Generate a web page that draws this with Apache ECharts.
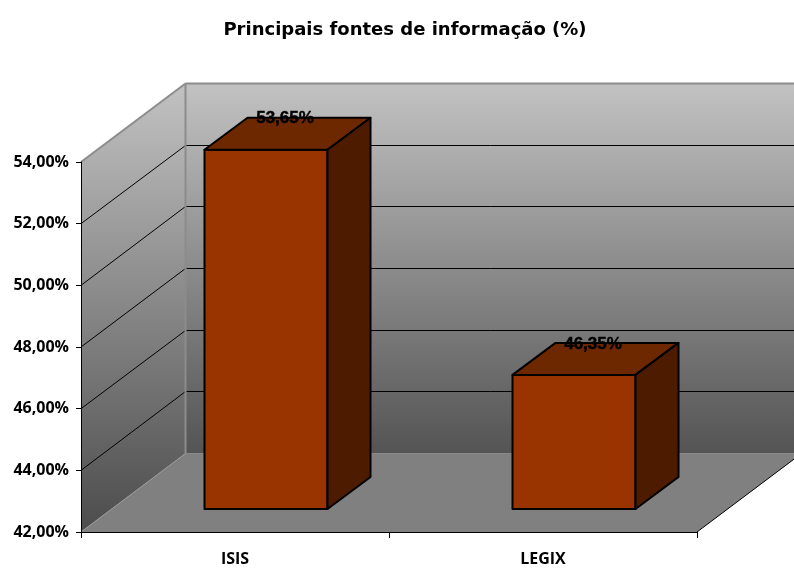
<!DOCTYPE html>
<html>
<head>
<meta charset="utf-8">
<script src="https://cdn.jsdelivr.net/npm/echarts@6/dist/echarts.min.js"></script>
<style>
html,body{margin:0;padding:0;background:#fff;}
#chart{width:794px;height:568px;}
</style>
</head>
<body>
<div id="chart"></div>
<script>
let categories = ['ISIS', 'LEGIX'];
let values = [53.65, 46.35];
let yTicks = [42, 44, 46, 48, 50, 52, 54];
let titleText = 'Principais fontes de informação (%)';

// 3D look: how far the back wall and the bar sit behind the axis plane, in px
let wallDepth = [104.5, -78.5];
let barOffset = [31, -23];
let barDepth = [43, -32];
let barWidth = 123;

function fmt(v){
    return v.toFixed(2).replace('.', ',') + '%';
}

function shift(p, d){
    return [p[0] + d[0], p[1] + d[1]];
}

function poly(points, style){
    return {type: 'polygon', shape: {points: points}, style: style};
}

function seg(a, b, color, w){
    return {type: 'line', shape: {x1: a[0], y1: a[1], x2: b[0], y2: b[1]},
        style: {stroke: color, lineWidth: w, fill: null}};
}

function renderWalls(params, api){
    // category coords snap to band centres, so step out half a band by hand
    let band = api.size([1, 0])[0];
    let min = yTicks[0];
    let max = yTicks[yTicks.length - 1];
    let x0 = api.coord([0, min])[0] - band / 2;
    let x1 = api.coord([categories.length - 1, min])[0] + band / 2;
    let yMin = api.coord([0, min])[1];
    let yMax = api.coord([0, max])[1];
    let bl = [x0, yMin];
    let br = [x1, yMin];
    let tl = [x0, yMax];
    let tr = [x1, yMax];
    let bbl = shift(bl, wallDepth);
    let bbr = shift(br, wallDepth);
    let btl = shift(tl, wallDepth);
    let btr = shift(tr, wallDepth);
    let kids = [];

    kids.push(poly([bl, br, bbr, bbl], {fill: '#808080'}));
    kids.push(poly([btl, btr, bbr, bbl], {
        fill: new echarts.graphic.LinearGradient(0, btl[1], 0, bbl[1], [
            {offset: 0, color: '#c2c2c2'},
            {offset: 1, color: '#545454'}
        ], true)
    }));
    kids.push(poly([tl, btl, bbl, bl], {
        fill: new echarts.graphic.LinearGradient(0, btl[1], 0, bl[1], [
            {offset: 0, color: '#c2c2c2'},
            {offset: 1, color: '#4c4c4c'}
        ], true)
    }));

    // grid lines go across the left wall and then the back wall
    for(let i = 1;i<yTicks.length - 1;i++){
        let y = api.coord([0, yTicks[i]])[1];
        let p = [x0, y];
        let q = [x1, y];
        let backY = Math.floor(y + wallDepth[1]) + 0.5; // keep it on one pixel row
        kids.push(seg(p, [x0 + wallDepth[0], backY], '#000', 1));
        kids.push(seg([x0 + wallDepth[0], backY], [q[0] + wallDepth[0], backY], '#000', 1));
    }

    kids.push(seg(tl, btl, '#8c8c8c', 2));
    kids.push(seg(btl, btr, '#8c8c8c', 2));
    kids.push(seg(btl, bbl, '#8c8c8c', 2));
    kids.push(seg(bl, bbl, '#9a9a9a', 1));
    kids.push(seg(br, bbr, '#000', 1));
    return {type: 'group', children: kids};
}

function renderBar(params, api){
    let idx = api.value(0);
    let val = api.value(1);
    let top = api.coord([idx, val]);
    let bottom = api.coord([idx, yTicks[0]]);
    let x0 = top[0] - barWidth / 2 + barOffset[0];
    let x1 = x0 + barWidth;
    let yTop = top[1] + barOffset[1];
    let yBottom = bottom[1] + barOffset[1];
    let a = [x0, yTop];
    let b = [x1, yTop];
    let c = [x1, yBottom];
    let d = [x0, yBottom];
    let edge = {stroke: '#000', lineWidth: 2, lineJoin: 'round'};
    return {
        type: 'group',
        children: [
            poly([a, b, c, d], Object.assign({fill: '#993300'}, edge)),
            poly([a, b, shift(b, barDepth), shift(a, barDepth)], Object.assign({fill: '#6e2800'}, edge)),
            poly([b, c, shift(c, barDepth), shift(b, barDepth)], Object.assign({fill: '#4d1c00'}, edge)),
            {
                type: 'text',
                style: {
                    x: (x0 + x1) / 2 + 19,
                    y: yTop + barDepth[1] + 1,
                    text: fmt(val),
                    fill: '#000',
                    stroke: '#000',
                    lineWidth: 0.4,
                    font: 'bold 17px "Liberation Sans"',
                    align: 'center',
                    verticalAlign: 'middle'
                }
            }
        ]
    };
}

let myChart = echarts.init(document.getElementById('chart'));

let option = {
    animation: false,
    backgroundColor: '#fff',
    title: {
        text: titleText,
        left: 400,
        top: 16,
        textAlign: 'center',
        textStyle: {
            fontFamily: 'DejaVu Sans',
            fontWeight: 'bold',
            fontSize: 18,
            color: '#000'
        }
    },
    grid: {left: 81, right: 97, top: 162, bottom: 36},
    xAxis: {
        type: 'category',
        data: categories,
        axisLine: {lineStyle: {color: '#000', width: 1}},
        axisTick: {show: true, alignWithLabel: false, length: 6, lineStyle: {color: '#000'}},
        axisLabel: {
            color: '#000',
            fontFamily: 'Open Sans',
            fontWeight: 'bold',
            fontSize: 16,
            margin: 19
        },
        z: 5
    },
    yAxis: {
        type: 'value',
        min: yTicks[0],
        max: yTicks[yTicks.length - 1],
        interval: yTicks[1] - yTicks[0],
        splitLine: {show: false},
        axisLine: {show: true, lineStyle: {color: '#000', width: 1}},
        axisTick: {show: true, length: 5, lineStyle: {color: '#000'}},
        axisLabel: {
            color: '#000',
            fontFamily: 'Open Sans',
            fontWeight: 'bold',
            fontSize: 16,
            margin: 12,
            formatter: fmt
        },
        z: 5
    },
    series: [{
        type: 'custom',
        silent: true,
        clip: false,
        z: 1,
        data: [[0, yTicks[0]]],
        renderItem: renderWalls
    },{
        type: 'custom',
        clip: false,
        z: 2,
        data: categories.map(function(c, i){ return [i, values[i]]; }),
        renderItem: renderBar
    }]
};

myChart.setOption(option);
</script>
</body>
</html>
